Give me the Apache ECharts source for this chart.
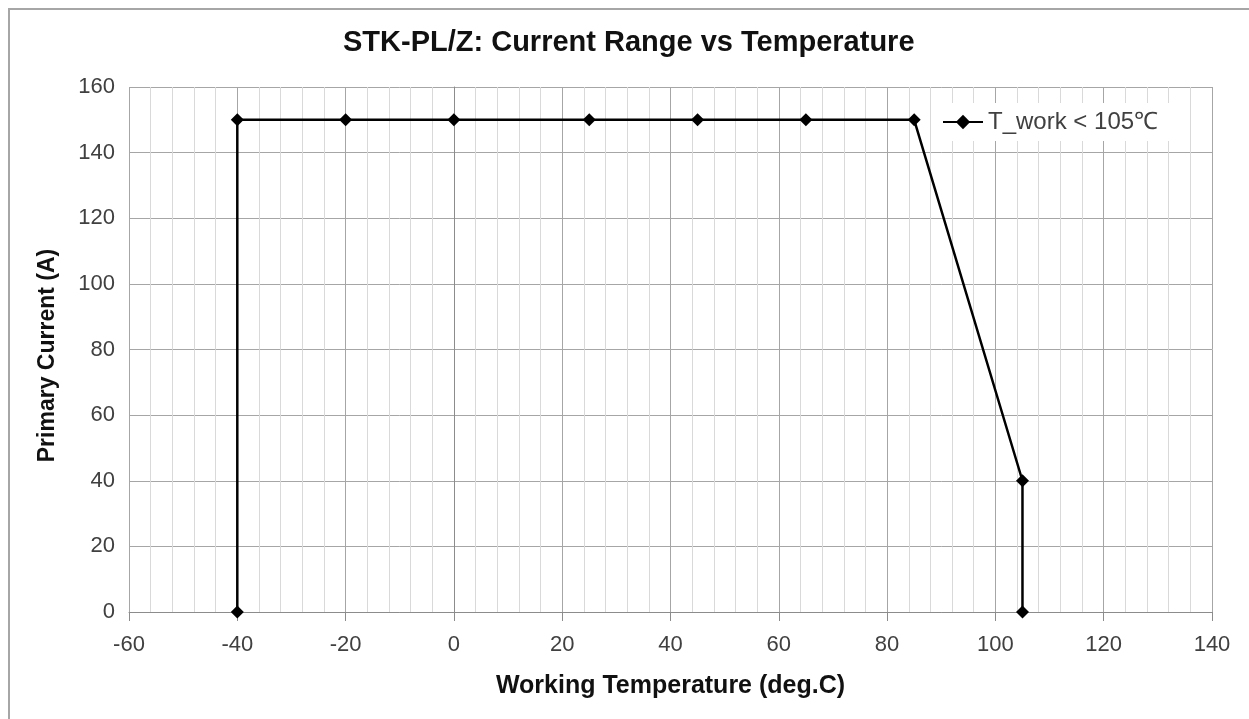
<!DOCTYPE html>
<html lang="en">
<head>
    <meta charset="UTF-8">
    <title>STK-PL/Z: Current Range vs Temperature</title>
    <script src="https://cdn.jsdelivr.net/npm/echarts@6/dist/echarts.min.js"></script>
    <style>
        html, body { margin: 0; padding: 0; background: #fff; }
        #frame { position: absolute; left: 8px; top: 8px; width: 1241px; height: 711px;
                 border-top: 2px solid #a6a6a6; border-left: 2px solid #a6a6a6; box-sizing: border-box; }
        #container { position: absolute; left: 0; top: 0; width: 1249px; height: 719px; }
    </style>
</head>
<body>
    <div id="frame"></div>
    <div id="container"></div>
    <script>
        // 数据：工作温度 / 原边电流
        var temps = [-40, -40, -20, 0, 25, 45, 65, 85, 105, 105];
        var currents = [0, 150, 150, 150, 150, 150, 150, 150, 40, 0];
        var seriesName = 'T_work < 105\u2103';

        var points = temps.map(function (t, i) { return [t, currents[i]]; });

        var font = 'Liberation Sans, Arial, sans-serif';
        var myChart = echarts.init(document.getElementById('container'));
        myChart.setOption({
            backgroundColor: 'transparent',
            animation: false,
            title: {
                text: 'STK-PL/Z: Current Range vs Temperature',
                left: 338,
                top: 23,
                textStyle: { fontFamily: font, fontSize: 29, fontWeight: 'bold', color: '#111' }
            },
            legend: {
                data: [{ name: seriesName }],
                left: 932,
                top: 103,
                padding: [7, 12, 7, 10],
                backgroundColor: '#fff',
                itemWidth: 40,
                itemHeight: 18,
                itemGap: 10,
                textStyle: { fontFamily: font, fontSize: 24, color: '#404040' }
            },
            grid: { left: 129, right: 37, top: 87, bottom: 107 },
            xAxis: {
                type: 'value',
                min: -60,
                max: 140,
                interval: 20,
                name: 'Working Temperature (deg.C)',
                nameLocation: 'middle',
                nameGap: 62,
                nameTextStyle: { fontFamily: font, fontSize: 25, fontWeight: 'bold', color: '#111' },
                axisLine: { show: true, onZero: false, lineStyle: { color: '#8c8c8c', width: 1 } },
                axisTick: { show: true, length: 9, lineStyle: { color: '#8c8c8c' } },
                axisLabel: { fontFamily: font, fontSize: 22, color: '#404040', margin: 22 },
                splitLine: { show: true, lineStyle: { color: '#a6a6a6', width: 1 } },
                minorTick: { show: false, splitNumber: 5 },
                minorSplitLine: { show: true, lineStyle: { color: '#d9d9d9', width: 1 } }
            },
            yAxis: {
                type: 'value',
                min: 0,
                max: 160,
                interval: 20,
                name: 'Primary Current (A)',
                nameLocation: 'middle',
                nameGap: 70,
                nameTextStyle: { fontFamily: font, fontSize: 23, fontWeight: 'bold', color: '#111', padding: [0, 12, 0, 0] },
                axisLine: { show: true, lineStyle: { color: '#8c8c8c', width: 1 } },
                axisTick: { show: false },
                axisLabel: { fontFamily: font, fontSize: 22, color: '#404040', margin: 14 },
                splitLine: { show: true, lineStyle: { color: '#a6a6a6', width: 1 } }
            },
            series: [{
                name: seriesName,
                type: 'line',
                data: points,
                symbol: 'diamond',
                symbolSize: 13,
                showAllSymbol: true,
                lineStyle: { color: '#000', width: 2.5 },
                itemStyle: { color: '#000' },
                z: 5
            }]
        });
    </script>
</body>
</html>
